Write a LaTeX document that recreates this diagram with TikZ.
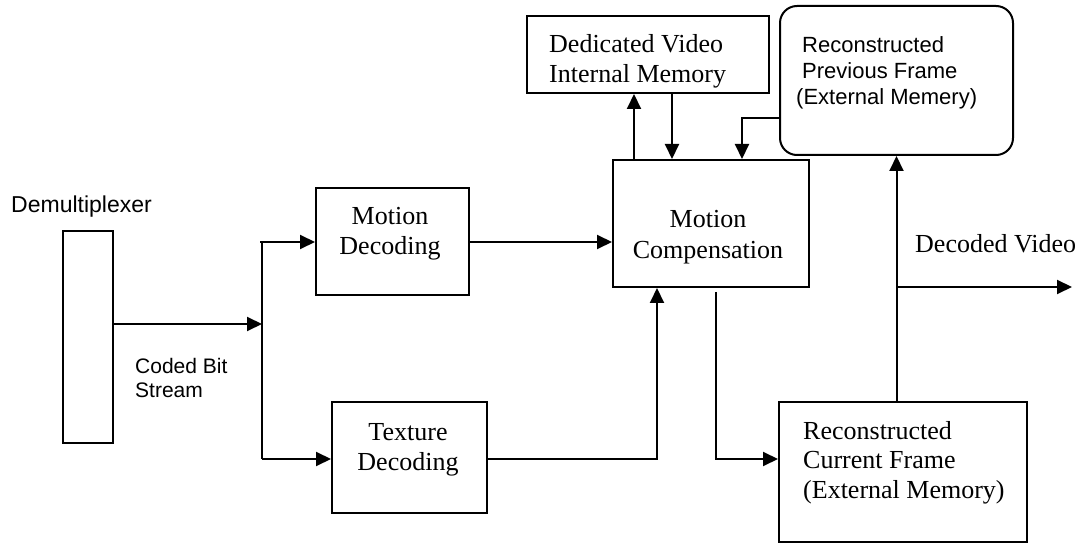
\documentclass[tikz,border=0pt]{standalone}
\usepackage{fontspec}
\setmainfont{Liberation Serif}
\newfontfamily\arialfont{Liberation Sans}
\usetikzlibrary{arrows.meta}
\tikzset{
  blk/.style={draw, line width=2pt, minimum width=#1, inner sep=0pt},
  arr/.style={line width=2pt, -{Triangle[length=15pt,width=14pt]}},
  wire/.style={line width=2pt},
  serif/.style={font=\fontsize{26}{30}\selectfont, inner sep=0pt},
  sans/.style={font=\arialfont\fontsize{22}{26}\selectfont, inner sep=0pt},
}
\begin{document}
\begin{tikzpicture}[x=1pt, y=-1pt]
\useasboundingbox (0,0) rectangle (1088,548);

% blocks
\node[blk=50pt, minimum height=212pt] (demux) at (88,337) {};
\node[blk=153pt, minimum height=107pt] (md) at (392.5,241.5) {};
\node[blk=155pt, minimum height=111pt] (td) at (409.5,457.5) {};
\node[blk=196pt, minimum height=127pt] (mc) at (711,223.5) {};
\node[blk=242pt, minimum height=77pt] (dv) at (648,54.5) {};
\node[blk=233pt, minimum height=149pt, rounded corners=17pt] (pf) at (896.5,80.5) {};
\node[blk=248pt, minimum height=140pt] (cf) at (903,472) {};

% labels (multi-line nodes are anchored at the baseline of their last line)
\node[sans, font=\arialfont\fontsize{23}{27}\selectfont, anchor=base west] (demuxlbl) at (11,213) {Demultiplexer};
\node[sans, font=\arialfont\fontsize{21}{24}\selectfont, anchor=base west, align=left] (cbs) at (135,397) {Coded Bit\\Stream};
\node[serif, anchor=base, align=center] (mdlbl) at (390,255) {Motion\\Decoding};
\node[serif, anchor=base, align=center] (tdlbl) at (408,470) {Texture\\Decoding};
\node[serif, font=\fontsize{26}{31}\selectfont, anchor=base, align=center] (mclbl) at (708,259) {Motion\\Compensation};
\node[serif, anchor=base west, align=left] (dvlbl) at (549,83) {Dedicated Video\\Internal Memory};
\node[sans, font=\arialfont\fontsize{22}{26}\selectfont, anchor=base west, align=left] (pflbl) at (802,105) {Reconstructed\\Previous Frame\\\hspace*{-6pt}(External Memery)};
\node[serif, font=\fontsize{26}{29.5}\selectfont, anchor=base west, align=left] (cflbl) at (803,498) {Reconstructed\\Current Frame\\(External Memory)};
\node[serif, anchor=base west] (outlbl) at (915,253) {Decoded Video};

% junction points
\coordinate (js) at (262,324);
\coordinate (jt) at (262,242);
\coordinate (jb) at (262,459);
\coordinate (out) at (1072,287);

% bit stream split
\draw[arr] (demux.east |- js) -- (js);
\draw[wire] (jt) -- (jb);
\draw[arr] ([xshift=-2pt]jt) -- (md.west |- jt);
\draw[arr] (jb) -- (td.west |- jb);

% decoders into motion compensation
\draw[arr] (md.east |- jt) -- (mc.west |- jt);
\draw[arr] (td.east |- jb) -| ([xshift=-54pt]mc.south);

% internal memory exchange
\draw[arr] ([xshift=-77pt]mc.north) -- ([xshift=-77pt]mc.north |- dv.south);
\draw[arr] ([xshift=24pt]dv.south) -- ([xshift=24pt]dv.south |- mc.north);

% previous frame into motion compensation
\draw[arr] (pf.west |- 0,118) -| ([xshift=31pt]mc.north);

% motion compensation to current frame
\draw[arr] ([xshift=5pt,yshift=-4pt]mc.south) |- (cf.west |- jb);

% current frame to previous frame and output
\draw[arr] (pf.south |- cf.north) -- (pf.south);
\draw[arr] (pf.south |- out) -- (out);
\end{tikzpicture}
\end{document}
